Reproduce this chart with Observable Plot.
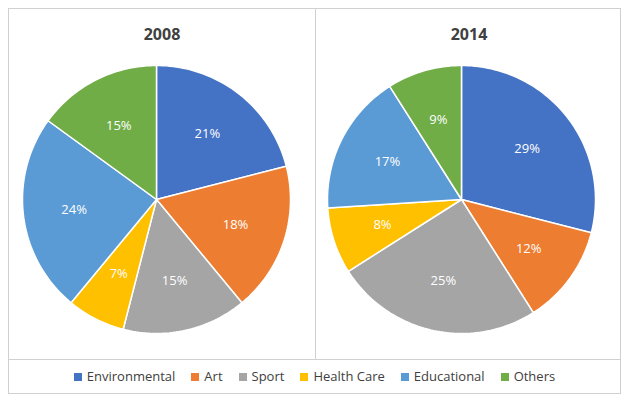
<!DOCTYPE html><html><head><meta charset="utf-8">
<script src="https://cdn.jsdelivr.net/npm/d3@7"></script>
<script src="https://cdn.jsdelivr.net/npm/@observablehq/plot@0.6"></script>
<style>
body{margin:0;background:#fff;font-family:"Open Sans",sans-serif;}
#frame{position:absolute;left:8px;top:8px;width:613px;height:386px;border:1px solid #d0d0d0;box-sizing:border-box;}
.panel{position:absolute;top:0;width:306px;height:350px;}
.title{position:absolute;top:14px;width:100%;text-align:center;font-weight:bold;font-size:16px;color:#404040;}
.svgwrap{position:absolute;top:49px;}
#div{position:absolute;left:306px;top:0;height:350px;border-left:1px solid #d0d0d0;}
#hl{position:absolute;left:0;right:0;top:350px;border-top:1px solid #d0d0d0;}
#legend{position:absolute;top:358px;left:0;right:0;text-align:center;font-size:13px;color:#404040;}
#legend span{margin:0 8px;}
#legend i{display:inline-block;width:8px;height:8px;margin-right:5px;}
</style></head><body>
<div id="frame">
<div class="panel" style="left:0"><div class="title">2008</div><div class="svgwrap" id="p1" style="left:6px"></div></div>
<div id="div"></div>
<div class="panel" style="left:307px"><div class="title">2014</div><div class="svgwrap" id="p2" style="left:4px"></div></div>
<div id="hl"></div>
<div id="legend"></div>
</div>
<script>
const categories=["Environmental","Art","Sport","Health Care","Educational","Others"];
const colors=["#4472C4","#ED7D31","#A5A5A5","#FFC000","#5B9BD5","#70AD47"];
const values2008=[21,18,15,7,24,15];
const values2014=[29,12,25,8,17,9];
function pie(values){
  const arcs=d3.pie().sort(null)(values);
  const pts=[],labels=[];
  arcs.forEach((a,i)=>{
    const cat=categories[i];
    pts.push({x:0,y:0,cat});
    const n=Math.max(4,Math.ceil((a.endAngle-a.startAngle)*40));
    for(let k=0;k<=n;k++){const t=a.startAngle+(a.endAngle-a.startAngle)*k/n;pts.push({x:Math.sin(t),y:Math.cos(t),cat});}
    pts.push({x:0,y:0,cat});
    const m=(a.startAngle+a.endAngle)/2;
    labels.push({x:0.62*Math.sin(m),y:0.62*Math.cos(m),t:values[i]+"%"});
  });
  return Plot.plot({width:282,height:282,margin:7,x:{domain:[-1,1],axis:null},y:{domain:[-1,1],axis:null},
    color:{domain:categories,range:colors},
    marks:[Plot.line(pts,{x:"x",y:"y",z:"cat",fill:"cat",stroke:"white",strokeWidth:1.5}),
      Plot.text(labels,{x:"x",y:"y",text:"t",fill:"white",fontSize:13,fontFamily:"Open Sans"})]});
}
document.getElementById("p1").append(pie(values2008));
document.getElementById("p2").append(pie(values2014));
document.getElementById("legend").innerHTML=categories.map((c,i)=>`<span><i style="background:${colors[i]}"></i>${c}</span>`).join("");
</script></body></html>
